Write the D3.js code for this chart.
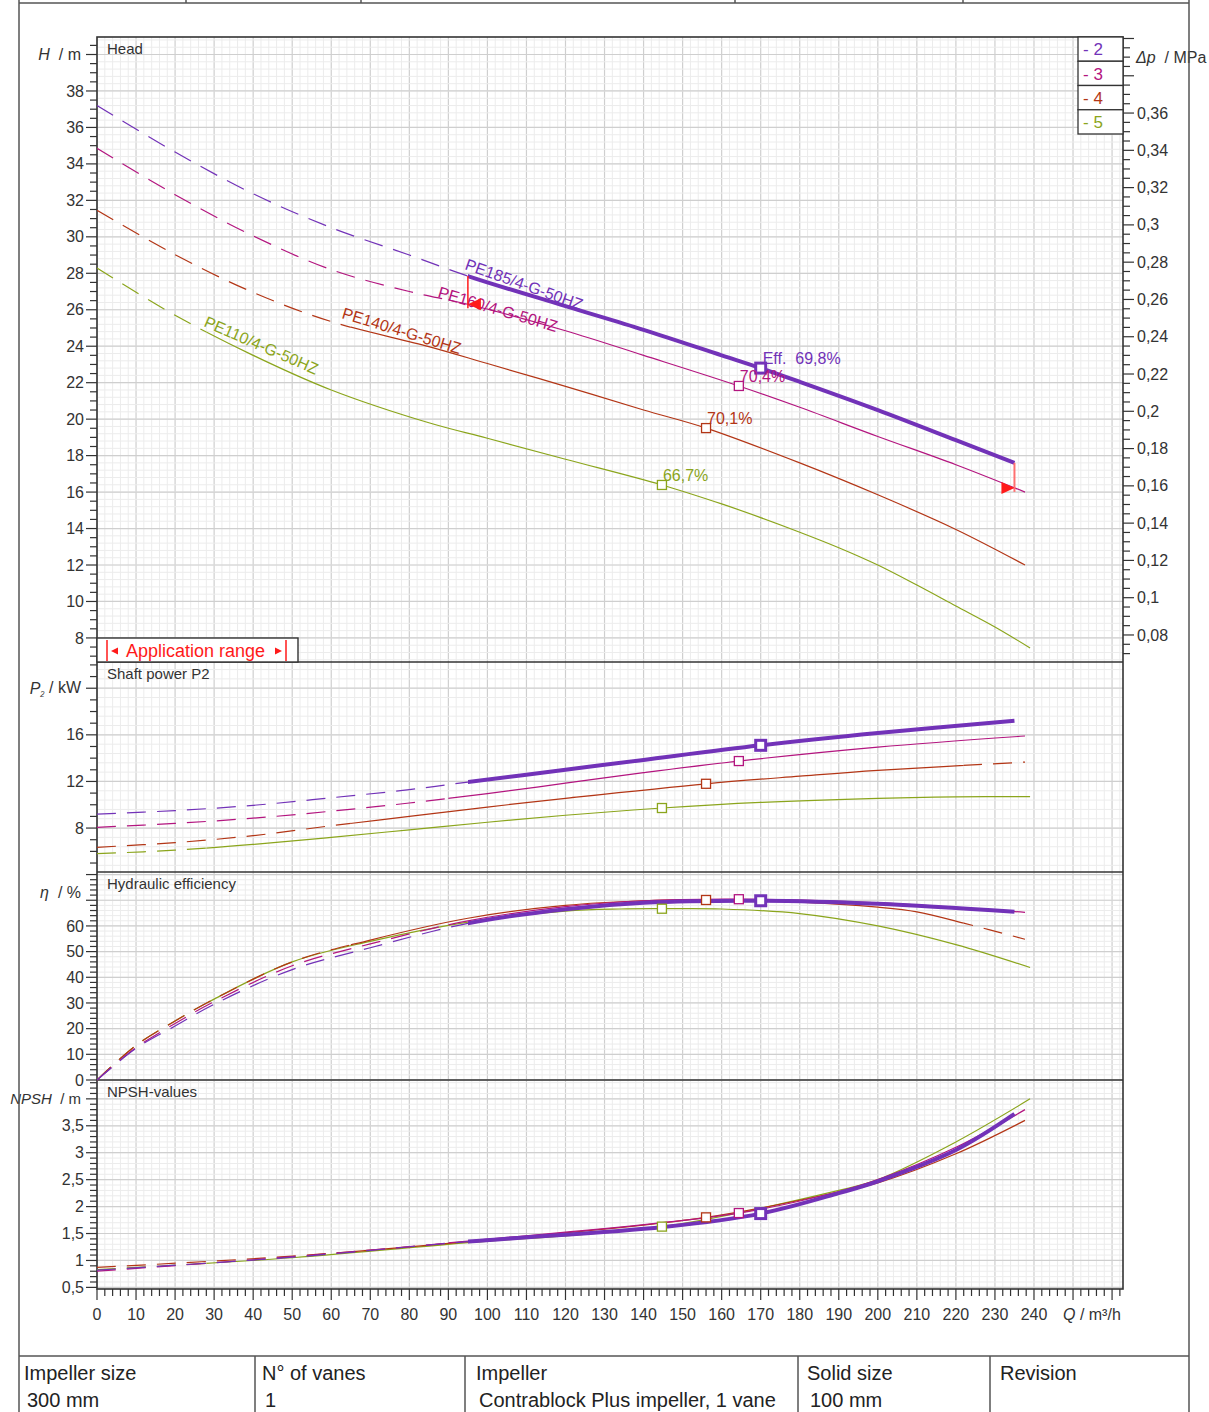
<!DOCTYPE html>
<html><head><meta charset="utf-8">
<script src="https://cdn.jsdelivr.net/npm/d3@7"></script>
<style>body{margin:0;background:#fff}svg{display:block;font-family:"Liberation Sans",Arial,sans-serif}</style>
</head><body><svg id="c" width="1209" height="1412"></svg>
<script>
// ---------------- DATA ----------------
const curveIds = ["2","3","4","5"];
const curveNames = ["PE185/4-G-50HZ","PE160/4-G-50HZ","PE140/4-G-50HZ","PE110/4-G-50HZ"];
const curveColors = ["#7232b8","#b3157f","#b33616","#8ba51c"];
const dutyQ = [170, 164.4, 156, 144.7];
const dutyEffText = ["Eff.  69,8%","70,4%","70,1%","66,7%"];

// Head H [m]
const headQ2 = [0,20,40,60,80,95,120,140,160,170,180,200,220,235];
const headH2 = [37.2,34.65,32.36,30.5,29.0,27.85,26.2,24.9,23.5,22.8,22.05,20.5,18.85,17.6];
const headQ3 = [0,20,40,60,80,95,120,140,164.4,180,200,220,237.7];
const headH3 = [34.86,32.31,30.05,28.2,27.0,26.3,24.85,23.5,21.82,20.65,19.05,17.5,16.0];
const headQ4 = [0,20,40,60,85,100,120,140,156,180,200,220,237.7];
const headH4 = [31.46,29.02,26.95,25.35,23.98,23.05,21.8,20.5,19.51,17.6,15.85,13.95,12.0];
const headQ5 = [0,20,40,60,85,100,120,144.7,160,170,180,190,200,210,220,230,239];
const headH5 = [28.29,25.7,23.5,21.6,19.8,18.95,17.8,16.39,15.35,14.6,13.8,12.95,12.0,10.9,9.75,8.6,7.45];

// Shaft power P2 [kW]
const powQ2 = [0,20,40,60,80,95,120,140,170,200,235];
const powP2 = [9.2,9.5,9.95,10.6,11.3,11.95,13.0,13.85,15.1,16.15,17.2];
const powQ3 = [0,20,40,60,80,100,120,140,164.4,200,237.7];
const powP3 = [8.06,8.4,8.85,9.45,10.15,10.95,11.85,12.75,13.75,14.95,15.9];
const powQ4 = [0,20,40,60,80,100,120,156,180,200,237.7];
const powP4 = [6.35,6.75,7.35,8.2,9.0,9.8,10.55,11.8,12.45,12.95,13.66];
const powQ5 = [0,20,40,60,80,100,120,144.7,170,200,220,239];
const powP5 = [5.8,6.1,6.6,7.2,7.85,8.5,9.1,9.72,10.2,10.55,10.68,10.7];

// Hydraulic efficiency [%]
const effQ2 = [0,10,20,30,50,70,95,120,140,170,200,235];
const effE2 = [0,12.3,21,29.5,43,51.5,61,66.5,69,69.8,68.6,65.5];
const effQ3 = [0,10,20,30,50,70,95,120,140,164.4,200,237.7];
const effE3 = [0,12.6,22,30.5,44.5,53,62,67.5,69.8,70.4,69.0,65.3];
const effQ4 = [0,10,20,30,50,70,95,120,140,156,180,200,210,222,237.7];
const effE4 = [0,13.5,23,31.5,46,54.5,63,68,69.8,70.1,69.3,67.3,65.5,61.1,54.8];
const effQ5 = [0,10,20,30,50,70,95,120,134,144.7,160,180,200,220,239];
const effE5 = [0,13.5,23,31.5,46,54,61.5,65.8,66.6,66.7,66.6,64.8,60.0,52.7,43.8];

// NPSH [m]
const npshQ2 = [0,50,95,145,170,190,200,220,235];
const npshN2 = [0.82,1.06,1.35,1.62,1.87,2.25,2.47,3.05,3.72];
const npshQ3 = [0,50,95,164.4,190,200,220,237.7];
const npshN3 = [0.8,1.07,1.36,1.88,2.28,2.5,3.1,3.8];
const npshQ4 = [0,50,95,156,190,200,220,237.7];
const npshN4 = [0.87,1.08,1.35,1.8,2.27,2.44,2.98,3.6];
const npshQ5 = [0,50,95,145,190,200,220,239];
const npshN5 = [0.83,1.05,1.33,1.63,2.3,2.5,3.2,4.0];

// line style ranges along Q
const seg2 = [[0,95,"dash"],[95,240,"thick"]];
const seg3 = [[0,90,"dash"],[90,240,"solid"]];
const seg4solid = [[0,65,"dash"],[65,240,"solid"]];
const seg4 = [[0,65,"dash"],[65,222,"solid"],[222,240,"dash"]];
const seg5 = [[0,28,"dash"],[28,240,"solid"]];

const xTickLabels = d3.range(0,241,10);
const dpTickLabels = [0.08,0.1,0.12,0.14,0.16,0.18,0.2,0.22,0.24,0.26,0.28,0.3,0.32,0.34,0.36];

// ---------------- DRAW ----------------
const svg = d3.select("#c");
svg.append("rect").attr("width",1209).attr("height",1412).attr("fill","#fff");
const X0 = 97, X1 = 1123;
const x = d3.scaleLinear().domain([0,262.8]).range([X0,X1]);
const fmt = v => String(+(+v).toFixed(3)).replace('.',',');
const axisCol = "#333";

const yHead = d3.scaleLinear().domain([6.68,40.96]).range([662,37]);
const yPow  = d3.scaleLinear().domain([4.23,22.25]).range([872,662]);
const yEff  = d3.scaleLinear().domain([0,81]).range([1080,872]);
const yNpsh = d3.scaleLinear().domain([0.47,4.35]).range([1289,1080]);
const yDp   = d3.scaleLinear().domain([0.0655,0.4008]).range([662,37]);

const panels = [
  {y:yHead, major:2, minor:0.5, grid:0.4, lab:[8,38], unitAt:40, title:"Head", unit:["H","  / m"]},
  {y:yPow, major:4, minor:1, grid:0.8, lab:[8,16], unitAt:20, title:"Shaft power P2", unit:["P","₂"," / kW"]},
  {y:yEff, major:10, minor:2, grid:2, lab:[0,60], unitAt:73, title:"Hydraulic efficiency", unit:["η","  / %"]},
  {y:yNpsh, major:0.5, minor:0.1, grid:0.1, lab:[0.5,3.5], unitAt:4, title:"NPSH-values", unit:["NPSH","  / m"]}
];

function steps(d0,d1,step){
  const out=[]; const a=Math.ceil(d0/step-1e-9), b=Math.floor(d1/step+1e-9);
  for(let i=a;i<=b;i++) out.push(+(i*step).toFixed(4));
  return out;
}

const gGrid = svg.append("g");
steps(0,262.8,2).forEach(q=>{
  const major = Math.abs(q/10-Math.round(q/10))<1e-6;
  gGrid.append("line").attr("x1",x(q)).attr("x2",x(q)).attr("y1",37).attr("y2",1289)
    .attr("stroke",major?"#cfcfcf":"#ececec").attr("stroke-width",major?1.2:1);
});
panels.forEach(p=>{
  const d=p.y.domain();
  steps(d[0],d[1],p.grid).forEach(v=>{
    gGrid.append("line").attr("x1",X0).attr("x2",X1).attr("y1",p.y(v)).attr("y2",p.y(v))
      .attr("stroke","#ececec").attr("stroke-width",1);
  });
  steps(d[0],d[1],p.major).forEach(v=>{
    gGrid.append("line").attr("x1",X0).attr("x2",X1).attr("y1",p.y(v)).attr("y2",p.y(v))
      .attr("stroke","#cfcfcf").attr("stroke-width",1.2);
  });
});

// Left axes
const gAx = svg.append("g").attr("fill",axisCol);
panels.forEach(p=>{
  const d=p.y.domain();
  steps(d[0],d[1],p.minor).forEach(v=>{
    const isMaj = Math.abs(v/p.major-Math.round(v/p.major))<1e-6;
    gAx.append("line").attr("x1",X0-(isMaj?11:7)).attr("x2",X0).attr("y1",p.y(v)).attr("y2",p.y(v))
      .attr("stroke",axisCol).attr("stroke-width",1.2);
  });
  steps(p.lab[0],p.lab[1],p.major).forEach(v=>{
    gAx.append("text").attr("x",84).attr("y",p.y(v)).attr("dy","0.35em").attr("text-anchor","end")
      .attr("font-size",16).text(fmt(v));
  });
  const t = gAx.append("text").attr("x",81).attr("y",p.y(p.unitAt)).attr("dy","0.35em")
     .attr("text-anchor","end").attr("font-size",p.unit[0]==="NPSH"?15:16).attr("xml:space","preserve");
  t.append("tspan").attr("font-style","italic").text(p.unit[0]);
  if(p.unit.length===3){ t.append("tspan").attr("font-style","italic").attr("font-size",11).attr("dy","0.1em").text(p.unit[1]);
    t.append("tspan").attr("dy","-0.1em").text(p.unit[2]); }
  else t.append("tspan").text(p.unit[1]);
  gAx.append("text").attr("x",107).attr("y",p.y.range()[1]+17).attr("font-size",15).text(p.title);
});

// Right Δp axis
steps(0.0655,0.4008,0.005).forEach(v=>{
  const isMaj = Math.abs(v/0.02-Math.round(v/0.02))<1e-6;
  gAx.append("line").attr("x1",X1).attr("x2",X1+(isMaj?11:7)).attr("y1",yDp(v)).attr("y2",yDp(v))
    .attr("stroke",axisCol).attr("stroke-width",1.2);
});
dpTickLabels.forEach(v=>{
  gAx.append("text").attr("x",1137).attr("y",yDp(v)).attr("dy","0.35em").attr("font-size",16).text(fmt(v));
});
{
  const t=gAx.append("text").attr("x",1136).attr("y",57).attr("dy","0.35em").attr("font-size",16).attr("xml:space","preserve");
  t.append("tspan").attr("font-style","italic").text("Δp");
  t.append("tspan").text("  / MPa");
}

// X axis
steps(0,262.8,2).forEach(q=>{
  const major = Math.abs(q/10-Math.round(q/10))<1e-6;
  gAx.append("line").attr("x1",x(q)).attr("x2",x(q)).attr("y1",1289).attr("y2",1289+(major?11:7))
    .attr("stroke",axisCol).attr("stroke-width",1.2);
});
xTickLabels.forEach(q=>{
  gAx.append("text").attr("x",x(q)).attr("y",1314).attr("dy","0.35em").attr("text-anchor","middle").attr("font-size",16).text(q);
});
{
  const t=gAx.append("text").attr("x",1063).attr("y",1314).attr("dy","0.35em").attr("font-size",16).attr("xml:space","preserve");
  t.append("tspan").attr("font-style","italic").text("Q");
  t.append("tspan").text(" / m³/h");
}

// Panel frames
const gFr = svg.append("g").attr("fill","none").attr("stroke","#333").attr("stroke-width",1.6);
gFr.append("rect").attr("x",X0).attr("y",37).attr("width",X1-X0).attr("height",1289-37);
[662,872,1080].forEach(yv=>gFr.append("line").attr("x1",X0).attr("x2",X1).attr("y1",yv).attr("y2",yv));

// Curves
const defs = svg.append("defs");
let clipN=0;
function clipFor(q0,q1){
  const id="cl"+(clipN++);
  defs.append("clipPath").attr("id",id).append("rect")
    .attr("x",x(q0)).attr("y",0).attr("width",x(q1)-x(q0)).attr("height",1412);
  return id;
}
function interpAt(qs,vs,q){
  for(let k=0;k<qs.length-1;k++){ if(q>=qs[k]&&q<=qs[k+1]){ const t=(q-qs[k])/(qs[k+1]-qs[k]); return vs[k]+t*(vs[k+1]-vs[k]); } }
  return vs[vs.length-1];
}
const seriesSets = [
  {y:yHead, q:[headQ2,headQ3,headQ4,headQ5], v:[headH2,headH3,headH4,headH5], segs:[seg2,seg3,seg4solid,seg5]},
  {y:yPow,  q:[powQ2,powQ3,powQ4,powQ5],     v:[powP2,powP3,powP4,powP5],     segs:[seg2,seg3,seg4,seg5]},
  {y:yEff,  q:[effQ2,effQ3,effQ4,effQ5],     v:[effE2,effE3,effE4,effE5],     segs:[seg2,seg3,seg4,seg5]},
  {y:yNpsh, q:[npshQ2,npshQ3,npshQ4,npshQ5], v:[npshN2,npshN3,npshN4,npshN5], segs:[seg2,seg3,seg4solid,seg5]}
];
const gC = svg.append("g");
const order=[3,2,1,0];
seriesSets.forEach(s=>{
  order.forEach(i=>{
    const pts = s.q[i].map((q,k)=>[q,s.v[i][k]]);
    const line = d3.line().x(d=>x(d[0])).y(d=>s.y(d[1])).curve(d3.curveCatmullRom.alpha(0.5));
    const dstr = line(pts);
    s.segs[i].forEach(sg=>{
      const p = gC.append("path").attr("d",dstr).attr("fill","none").attr("stroke",curveColors[i])
        .attr("clip-path",`url(#${clipFor(sg[0],sg[1])})`);
      if(sg[2]==="dash") p.attr("stroke-width",1.2).attr("stroke-dasharray","19,11");
      else if(sg[2]==="thick") p.attr("stroke-width",4);
      else p.attr("stroke-width",1.2);
    });
  });
  order.forEach(i=>{
    const qd = dutyQ[i];
    const idx = s.q[i].indexOf(qd);
    const yv = s.y(idx>=0 ? s.v[i][idx] : interpAt(s.q[i],s.v[i],qd));
    const sz = i===0?10:9;
    gC.append("rect").attr("x",x(qd)-sz/2).attr("y",yv-sz/2).attr("width",sz).attr("height",sz)
      .attr("fill","#fff").attr("stroke",curveColors[i]).attr("stroke-width",i===0?3:1.3);
  });
});

// Duty efficiency labels
order.forEach(i=>{
  const hq = interpAt(seriesSets[0].q[i],seriesSets[0].v[i],dutyQ[i]);
  gC.append("text").attr("x",x(dutyQ[i])+(i===0?2:1)).attr("y",yHead(hq)-4)
    .attr("fill",curveColors[i]).attr("font-size",16).attr("xml:space","preserve").text(dutyEffText[i]);
});

// Curve name labels
const nameLab = [[464,269,19.5],[437,297,16.5],[341,318,17],[203,326,23.5]];
order.forEach(i=>{
  const [lx,ly,a]=nameLab[i];
  gC.append("text").attr("transform",`translate(${lx},${ly}) rotate(${a})`)
    .attr("fill",curveColors[i]).attr("font-size",16).text(curveNames[i]);
});

// Application range markers on head panel
const red="#ff1a1a";
{
  const qa=95, qb=235;
  const h2a=interpAt(headQ2,headH2,qa), h3a=interpAt(headQ3,headH3,qa);
  const h2b=interpAt(headQ2,headH2,qb), h3b=interpAt(headQ3,headH3,qb);
  gC.append("line").attr("x1",x(qa)).attr("x2",x(qa)).attr("y1",yHead(h2a)).attr("y2",yHead(h3a)+4)
    .attr("stroke",red).attr("stroke-width",1.5);
  gC.append("line").attr("x1",x(qb)).attr("x2",x(qb)).attr("y1",yHead(h2b)).attr("y2",yHead(h3b)+4)
    .attr("stroke","#ff7070").attr("stroke-width",2);
  const ya=yHead(h3a), yb=yHead(h3b);
  gC.append("path").attr("d",`M${x(qa)},${ya} L${x(qa)+13},${ya-6} L${x(qa)+13},${ya+6}Z`).attr("fill",red);
  gC.append("path").attr("d",`M${x(qb)},${yb} L${x(qb)-13},${yb-6} L${x(qb)-13},${yb+6}Z`).attr("fill",red);
}

// Application range box
{
  const g=svg.append("g");
  g.append("rect").attr("x",X0).attr("y",638).attr("width",201).attr("height",24).attr("fill","#fff").attr("stroke","#333").attr("stroke-width",1.4);
  g.append("line").attr("x1",107).attr("x2",107).attr("y1",640).attr("y2",661).attr("stroke",red).attr("stroke-width",1.5);
  g.append("line").attr("x1",286).attr("x2",286).attr("y1",640).attr("y2",661).attr("stroke",red).attr("stroke-width",1.5);
  g.append("path").attr("d","M111,651 L118,647.5 L118,654.5Z").attr("fill",red);
  g.append("path").attr("d","M282,651 L275,647.5 L275,654.5Z").attr("fill",red);
  g.append("text").attr("x",126).attr("y",651).attr("dy","0.35em").attr("fill",red).attr("font-size",18).text("Application range");
}

// Legend
{
  const g=svg.append("g");
  curveIds.forEach((id,i)=>{
    g.append("rect").attr("x",1078).attr("y",37+i*24.25).attr("width",45).attr("height",24.25)
      .attr("fill","#fff").attr("stroke","#333").attr("stroke-width",1.3);
    g.append("text").attr("x",1083).attr("y",37+i*24.25+12.5).attr("dy","0.35em").attr("font-size",17)
      .attr("fill",curveColors[i]).text("- "+id);
  });
}

// Outer page frame & tables
{
  const g=svg.append("g").attr("stroke","#555").attr("stroke-width",1.5);
  g.append("line").attr("x1",19).attr("x2",19).attr("y1",0).attr("y2",1412);
  g.append("line").attr("x1",1189).attr("x2",1189).attr("y1",0).attr("y2",1412);
  g.append("line").attr("x1",19).attr("x2",1189).attr("y1",3).attr("y2",3);
  [186,361,735,963].forEach(v=>g.append("line").attr("x1",v).attr("x2",v).attr("y1",0).attr("y2",3));
  g.append("line").attr("x1",19).attr("x2",1189).attr("y1",1356).attr("y2",1356);
  [255,465,798,990].forEach(v=>g.append("line").attr("x1",v).attr("x2",v).attr("y1",1356).attr("y2",1412));
  const cells=[[24,"Impeller size","300 mm"],[262,"N° of vanes","1"],[476,"Impeller","Contrablock Plus impeller, 1 vane"],[807,"Solid size","100 mm"],[1000,"Revision",""]];
  cells.forEach(c=>{
    svg.append("text").attr("x",c[0]).attr("y",1380).attr("font-size",20).attr("fill","#222").text(c[1]);
    svg.append("text").attr("x",c[0]+3).attr("y",1407).attr("font-size",20).attr("fill","#222").text(c[2]);
  });
}
</script></body></html>
